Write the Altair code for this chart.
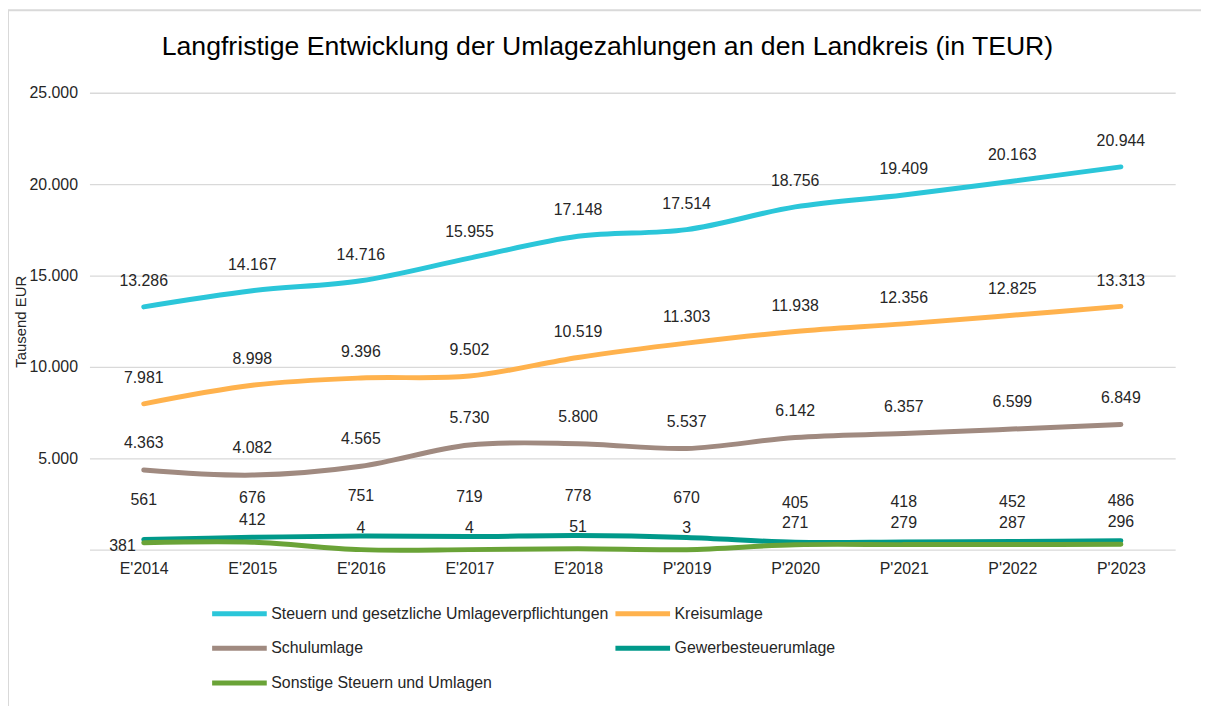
import altair as alt
import pandas as pd

categories = ["E'2014", "E'2015", "E'2016", "E'2017", "E'2018",
              "P'2019", "P'2020", "P'2021", "P'2022", "P'2023"]
series_names = ["Steuern und gesetzliche Umlageverpflichtungen", "Kreisumlage",
                "Schulumlage", "Gewerbesteuerumlage", "Sonstige Steuern und Umlagen"]
steuern = [13286, 14167, 14716, 15955, 17148, 17514, 18756, 19409, 20163, 20944]
kreisumlage = [7981, 8998, 9396, 9502, 10519, 11303, 11938, 12356, 12825, 13313]
schulumlage = [4363, 4082, 4565, 5730, 5800, 5537, 6142, 6357, 6599, 6849]
gewerbesteuerumlage = [561, 676, 751, 719, 778, 670, 405, 418, 452, 486]
sonstige = [381, 412, 4, 4, 51, 3, 271, 279, 287, 296]
colors = ["#2BC6D9", "#FFB24D", "#A08A80", "#00998A", "#6AA337"]
label_dy = [-26, -26, -27, -40, -22]
title_text = "Langfristige Entwicklung der Umlagezahlungen an den Landkreis (in TEUR)"

series_values = [steuern, kreisumlage, schulumlage, gewerbesteuerumlage, sonstige]
rows = []
for name, vals in zip(series_names, series_values):
    for c, v in zip(categories, vals):
        rows.append({"Jahr": c, "Serie": name, "Wert": v})
df = pd.DataFrame(rows)

FONT = "Liberation Sans"
TXT = "#262626"
FS = 16
W, H = 1093, 460

x_enc = alt.X("Jahr:N", sort=categories,
              scale=alt.Scale(type="point", padding=0.5),
              axis=alt.Axis(title=None, labelAngle=0, ticks=False, domain=False,
                            labelPadding=11, labelFontSize=FS, labelColor=TXT,
                            labelFont=FONT, grid=False))
y_enc = alt.Y("Wert:Q", scale=alt.Scale(domain=[0, 25000], nice=False),
              axis=alt.Axis(values=[0, 5000, 10000, 15000, 20000, 25000], format=",d",
                            labelExpr="datum.value == 0 ? '' : datum.label",
                            title="Tausend EUR", titleFontSize=15, titleFontWeight="normal",
                            titleColor=TXT, titleFont=FONT, ticks=False, domain=False,
                            gridColor="#d9d9d9", gridWidth=1.3, labelPadding=12,
                            titlePadding=0, labelFontSize=FS, labelColor=TXT,
                            labelFont=FONT))
color_enc = alt.Color("Serie:N", sort=series_names,
                      scale=alt.Scale(domain=series_names, range=colors),
                      legend=alt.Legend(title=None, orient="none", legendX=121, legendY=507,
                                        columns=2, direction="horizontal",
                                        symbolType="stroke", symbolSize=3025,
                                        symbolStrokeWidth=5, labelFontSize=FS,
                                        labelFont=FONT, labelColor=TXT, rowPadding=0,
                                        clipHeight=34.5, columnPadding=4, labelOffset=2,
                                        labelLimit=0))

border = alt.Chart(pd.DataFrame({"a": [0]})).mark_rect(
    filled=False, stroke="#d9d9d9", strokeWidth=2, clip=False
).encode(x=alt.value(-82), x2=alt.value(W + 300), y=alt.value(-83), y2=alt.value(H + 400))

title = alt.Chart(pd.DataFrame({"t": [title_text]})).mark_text(
    fontSize=26.8, font=FONT, color="#000000", align="center", baseline="middle"
).encode(text="t:N", x=alt.value(W / 2 - 25), y=alt.value(-46))

lines = alt.Chart(df).mark_line(strokeWidth=5, interpolate="catmull-rom", strokeCap="round").encode(
    x=x_enc, y=y_enc, color=color_enc)

layers = [border, title, lines]
for name, dy in zip(series_names, label_dy):
    sub = df[df.Serie == name]
    if name == series_names[4]:
        first = sub[sub.Jahr == categories[0]]
        rest = sub[sub.Jahr != categories[0]]
        layers.append(alt.Chart(first).mark_text(dx=-8, dy=3, align="right", fontSize=FS,
                                                  font=FONT, color=TXT).encode(
            x=alt.X("Jahr:N", sort=categories), y="Wert:Q",
            text=alt.Text("Wert:Q", format=",d")))
        sub = rest
    layers.append(alt.Chart(sub).mark_text(dy=dy, fontSize=FS, font=FONT, color=TXT).encode(
        x=alt.X("Jahr:N", sort=categories), y="Wert:Q",
        text=alt.Text("Wert:Q", format=",d")))

chart = alt.layer(*layers).properties(
    width=W, height=H,
    autosize=alt.AutoSizeParams(type="none"),
    padding={"left": 82, "top": 83, "right": 26, "bottom": 155},
).configure(
    locale={"number": {"decimal": ",", "thousands": ".", "grouping": [3],
                       "currency": ["", " \u20ac"]}}
).configure_view(stroke=None)

chart.save("out.html", embed_options={"renderer": "svg", "actions": False})
